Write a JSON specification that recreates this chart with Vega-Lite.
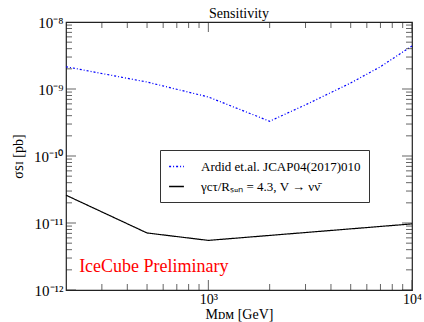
{
  "$schema": "https://vega.github.io/schema/vega-lite/v6.json",
  "width": 346,
  "height": 268,
  "autosize": {"type": "none"},
  "padding": {"left": 66, "top": 22, "right": 12, "bottom": 32},
  "background": "white",
  "view": {"stroke": "#222222", "strokeWidth": 1.2},
  "title": {"text": "Sensitivity", "font": "Liberation Serif", "fontSize": 14, "fontWeight": "normal", "color": "black", "offset": -6},
  "config": {
    "axis": {"domain": false, "grid": false, "ticks": false, "labelColor": "black", "titleColor": "black", "labelFont": "Liberation Serif", "titleFont": "Liberation Serif", "titleFontWeight": "normal", "labelOverlap": false, "labelFlush": false},
    "legend": {"labelFont": "Liberation Serif", "labelFontSize": 13, "labelColor": "black"}
  },
  "datasets": {
    "curves": [
      {"series": "Ardid et.al. JCAP04(2017)010", "m": 200, "sigma": 2.15e-9},
      {"series": "Ardid et.al. JCAP04(2017)010", "m": 500, "sigma": 1.27e-9},
      {"series": "Ardid et.al. JCAP04(2017)010", "m": 1000, "sigma": 7.6e-10},
      {"series": "Ardid et.al. JCAP04(2017)010", "m": 2000, "sigma": 3.3e-10},
      {"series": "Ardid et.al. JCAP04(2017)010", "m": 3000, "sigma": 5.8e-10},
      {"series": "Ardid et.al. JCAP04(2017)010", "m": 5000, "sigma": 1.23e-9},
      {"series": "Ardid et.al. JCAP04(2017)010", "m": 7000, "sigma": 2.15e-9},
      {"series": "Ardid et.al. JCAP04(2017)010", "m": 10000, "sigma": 4.4e-9},
      {"series": "γcτ/Rₛᵤₙ = 4.3, V → νν̄", "m": 200, "sigma": 2.6e-11},
      {"series": "γcτ/Rₛᵤₙ = 4.3, V → νν̄", "m": 500, "sigma": 7.1e-12},
      {"series": "γcτ/Rₛᵤₙ = 4.3, V → νν̄", "m": 1000, "sigma": 5.5e-12},
      {"series": "γcτ/Rₛᵤₙ = 4.3, V → νν̄", "m": 10000, "sigma": 9.7e-12}
    ],
    "note": [
      {"m": 232, "sigma": 1.86e-12, "label": "IceCube Preliminary"}
    ],
    "xmajor": [{"m": 1000}, {"m": 10000}],
    "xminor": [{"m": 300}, {"m": 400}, {"m": 500}, {"m": 600}, {"m": 700}, {"m": 800}, {"m": 900}, {"m": 2000}, {"m": 3000}, {"m": 4000}, {"m": 5000}, {"m": 6000}, {"m": 7000}, {"m": 8000}, {"m": 9000}],
    "ymajor": [{"sigma": 1e-12}, {"sigma": 1e-11}, {"sigma": 1e-10}, {"sigma": 1e-9}, {"sigma": 1e-8}],
    "yminor": [{"sigma": 2e-12}, {"sigma": 3e-12}, {"sigma": 4e-12}, {"sigma": 5e-12}, {"sigma": 6e-12}, {"sigma": 7e-12}, {"sigma": 8e-12}, {"sigma": 9e-12},
               {"sigma": 2e-11}, {"sigma": 3e-11}, {"sigma": 4e-11}, {"sigma": 5e-11}, {"sigma": 6e-11}, {"sigma": 7e-11}, {"sigma": 8e-11}, {"sigma": 9e-11},
               {"sigma": 2e-10}, {"sigma": 3e-10}, {"sigma": 4e-10}, {"sigma": 5e-10}, {"sigma": 6e-10}, {"sigma": 7e-10}, {"sigma": 8e-10}, {"sigma": 9e-10},
               {"sigma": 2e-9}, {"sigma": 3e-9}, {"sigma": 4e-9}, {"sigma": 5e-9}, {"sigma": 6e-9}, {"sigma": 7e-9}, {"sigma": 8e-9}, {"sigma": 9e-9}]
  },
  "layer": [
    {
      "data": {"name": "curves"},
      "mark": {"type": "line", "strokeWidth": 1.2},
      "encoding": {
        "x": {"field": "m", "type": "quantitative",
          "scale": {"type": "log", "domain": [200, 10000], "nice": false},
          "axis": {"orient": "bottom", "title": "Mᴅᴍ [GeV]", "titleFontSize": 14, "titlePadding": 1, "labelFontSize": 14, "labelPadding": 2,
            "values": [1000, 10000],
            "labelExpr": "abs(log(datum.value)/LN10 - 3) < 0.001 ? '10³' : abs(log(datum.value)/LN10 - 4) < 0.001 ? '10⁴' : ''"}},
        "y": {"field": "sigma", "type": "quantitative",
          "scale": {"type": "log", "domain": [1e-12, 1e-8], "nice": false},
          "axis": {"orient": "left", "title": "σꜱɪ [pb]", "titleFontSize": 14, "titlePadding": 8, "labelFontSize": 15, "labelPadding": 3,
            "values": [1e-12, 1e-11, 1e-10, 1e-9, 1e-8],
            "labelExpr": "abs(log(datum.value)/LN10 + 8) < 0.001 ? '10⁻⁸' : abs(log(datum.value)/LN10 + 9) < 0.001 ? '10⁻⁹' : abs(log(datum.value)/LN10 + 10) < 0.001 ? '10⁻¹⁰' : abs(log(datum.value)/LN10 + 11) < 0.001 ? '10⁻¹¹' : abs(log(datum.value)/LN10 + 12) < 0.001 ? '10⁻¹²' : ''"}},
        "color": {"field": "series", "type": "nominal",
          "scale": {"domain": ["Ardid et.al. JCAP04(2017)010", "γcτ/Rₛᵤₙ = 4.3, V → νν̄"], "range": ["#0000ff", "#000000"]},
          "legend": {"title": null, "orient": "none", "legendX": 94, "legendY": 128, "strokeColor": "#333333", "padding": 8, "fillColor": "white",
            "symbolType": "stroke", "symbolSize": 220, "symbolStrokeWidth": 1.5, "labelFont": "Liberation Serif", "labelFontSize": 13, "labelColor": "black", "labelOffset": 16, "rowPadding": 4, "labelLimit": 300}},
        "strokeDash": {"field": "series", "type": "nominal",
          "scale": {"domain": ["Ardid et.al. JCAP04(2017)010", "γcτ/Rₛᵤₙ = 4.3, V → νν̄"], "range": [[2, 2, 1, 2], [1, 0]]},
          "legend": null}
      }
    },
    {
      "data": {"name": "xmajor"},
      "mark": {"type": "tick", "orient": "vertical", "size": 20, "thickness": 1, "color": "#222222", "clip": true},
      "encoding": {"x": {"field": "m", "type": "quantitative"}, "y": {"datum": 1e-12, "type": "quantitative"}}
    },
    {
      "data": {"name": "xmajor"},
      "mark": {"type": "tick", "orient": "vertical", "size": 20, "thickness": 1, "color": "#222222", "clip": true},
      "encoding": {"x": {"field": "m", "type": "quantitative"}, "y": {"datum": 1e-8, "type": "quantitative"}}
    },
    {
      "data": {"name": "xminor"},
      "mark": {"type": "tick", "orient": "vertical", "size": 12, "thickness": 1, "color": "#222222", "clip": true},
      "encoding": {"x": {"field": "m", "type": "quantitative"}, "y": {"datum": 1e-12, "type": "quantitative"}}
    },
    {
      "data": {"name": "xminor"},
      "mark": {"type": "tick", "orient": "vertical", "size": 12, "thickness": 1, "color": "#222222", "clip": true},
      "encoding": {"x": {"field": "m", "type": "quantitative"}, "y": {"datum": 1e-8, "type": "quantitative"}}
    },
    {
      "data": {"name": "ymajor"},
      "mark": {"type": "tick", "orient": "horizontal", "size": 20, "thickness": 1, "color": "#222222", "clip": true},
      "encoding": {"y": {"field": "sigma", "type": "quantitative"}, "x": {"datum": 200, "type": "quantitative"}}
    },
    {
      "data": {"name": "ymajor"},
      "mark": {"type": "tick", "orient": "horizontal", "size": 20, "thickness": 1, "color": "#222222", "clip": true},
      "encoding": {"y": {"field": "sigma", "type": "quantitative"}, "x": {"datum": 10000, "type": "quantitative"}}
    },
    {
      "data": {"name": "yminor"},
      "mark": {"type": "tick", "orient": "horizontal", "size": 12, "thickness": 1, "color": "#222222", "clip": true},
      "encoding": {"y": {"field": "sigma", "type": "quantitative"}, "x": {"datum": 200, "type": "quantitative"}}
    },
    {
      "data": {"name": "yminor"},
      "mark": {"type": "tick", "orient": "horizontal", "size": 12, "thickness": 1, "color": "#222222", "clip": true},
      "encoding": {"y": {"field": "sigma", "type": "quantitative"}, "x": {"datum": 10000, "type": "quantitative"}}
    },
    {
      "data": {"name": "note"},
      "mark": {"type": "text", "font": "Liberation Serif", "fontSize": 18, "color": "#ff0000", "align": "left", "baseline": "alphabetic"},
      "encoding": {
        "x": {"field": "m", "type": "quantitative"},
        "y": {"field": "sigma", "type": "quantitative"},
        "text": {"field": "label", "type": "nominal"}
      }
    }
  ]
}
